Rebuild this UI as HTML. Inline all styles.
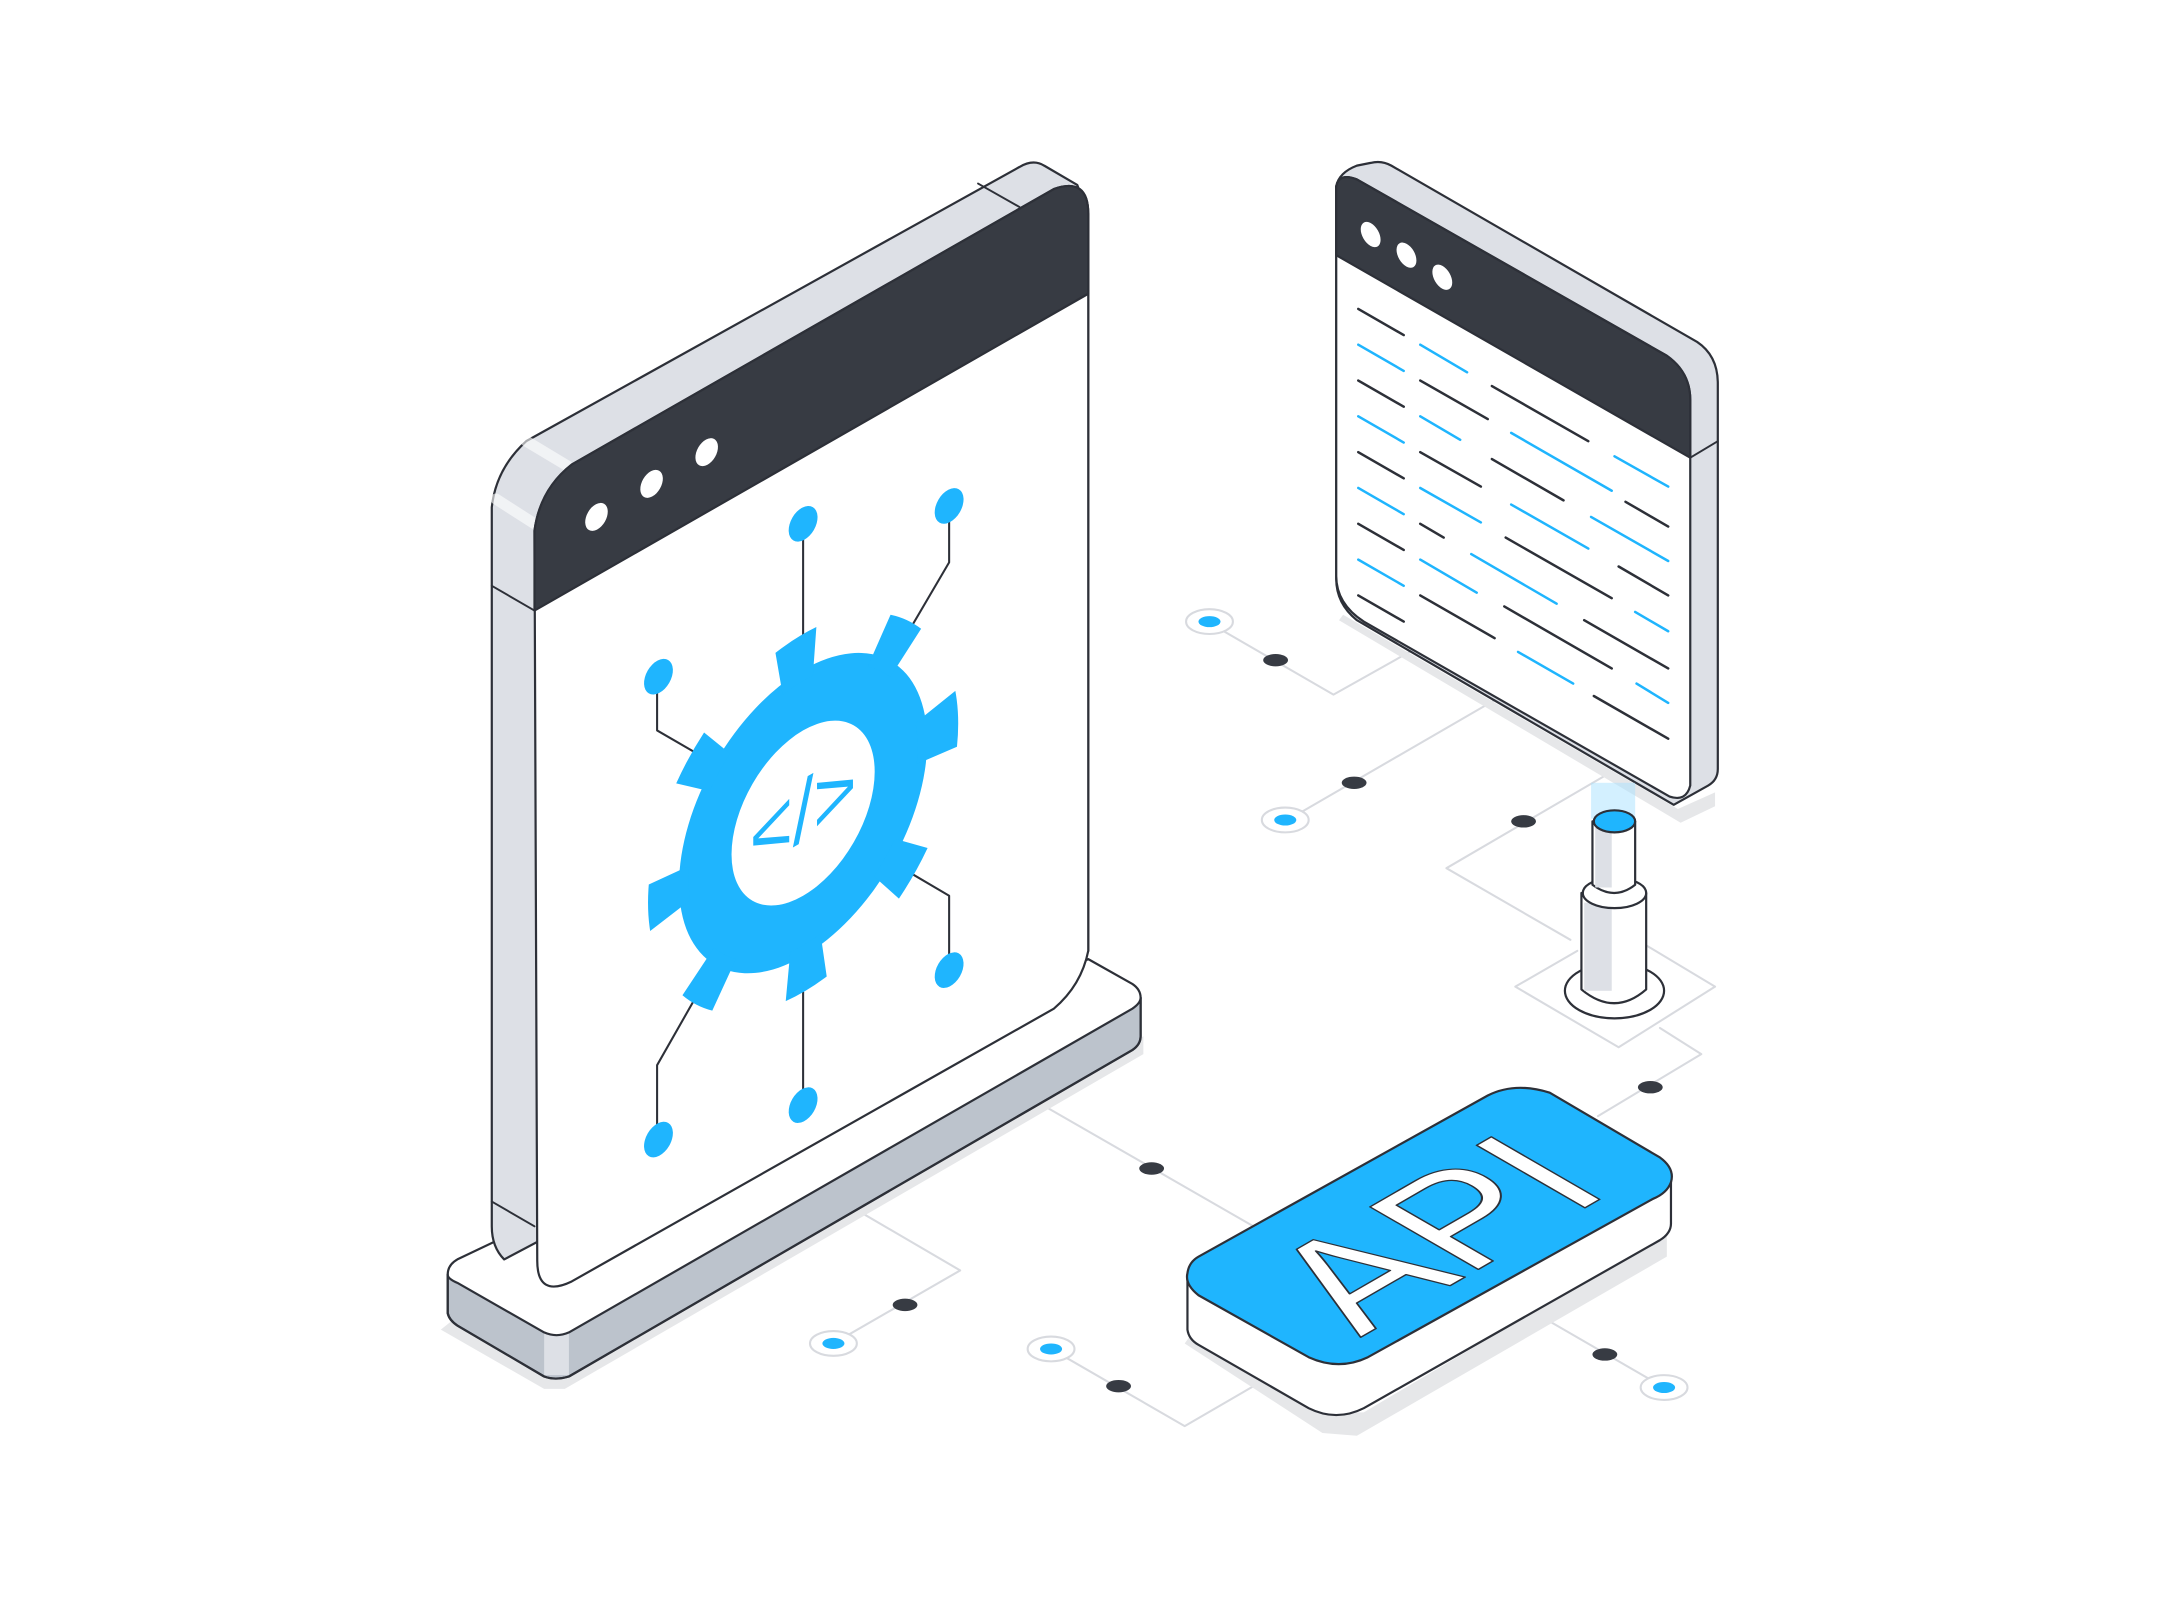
<!DOCTYPE html>
<html><head><meta charset="utf-8">
<style>
html,body{margin:0;padding:0;background:#fff;}
svg{display:block;}
text{font-family:"Liberation Sans",sans-serif;}
</style></head>
<body>
<svg width="2160" height="1600" viewBox="0 0 1568 1161" xmlns="http://www.w3.org/2000/svg">
<g fill="none" stroke-linejoin="round" stroke-linecap="round">

<g stroke="#d8dadf" stroke-width="1.5">
  <polyline points="878,452 968,504 1025,472"/>
  <polyline points="933,596 1085,508"/>
  <polyline points="1170,560 1050,630 1140,682"/>
  <polyline points="1195,686 1245,716 1175,760 1100,716 1145,690"/>
  <polyline points="1205,746 1235,765 1160,810"/>
  <polyline points="750,798 910,890"/>
  <polyline points="605,975 697,922 620,877"/>
  <polyline points="763,979 860,1035 910,1006"/>
  <polyline points="1118,955 1208,1007"/>
</g>

<path d="M320,965 L395,1008 L410,1008 L830,765 L830,752 L410,995 L395,995 L330,957 Z" fill="#e6e7e9"/>
<path d="M860,975 L960,1040 L985,1042 L1210,912 L1210,895 L990,1025 L960,1025 L865,968 Z" fill="#e6e7e9"/>
<path d="M972,450 L1220,597 L1245,585 L1245,575 L1218,587 L975,446 Z" fill="#e6e7e9"/>

<path d="M325,925 L325,953 Q326,958 332,962 L395,999 Q403,1002 413,999 L822,762 Q828,758 828,752 L828,724 Z" fill="#bcc3cc" stroke="#2d3038" stroke-width="1.6"/>
<rect x="395" y="966" width="18" height="32" fill="#dde0e6"/>
<path d="M325,925 Q325,918 332,914 L790,696 L822,714 Q828,718 828,724 Q828,728 822,732 L413,967 Q404,971 395,967 L332,931 Q325,928 325,925 Z" fill="#fff" stroke="#2d3038" stroke-width="1.6"/>
<path d="M325,925 L325,953 Q326,958 332,962 L395,999 Q403,1002 413,999 L822,762 Q828,758 828,752 L828,724" stroke="#2d3038" stroke-width="1.6"/>

<path d="M357,368 Q360,340 382,320 L740,121 Q750,115 758,120 L782,134 L790,155 L790,690 L366,914 Q357,905 357,890 Z" fill="#dde0e6" stroke="#2d3038" stroke-width="1.6"/>
<path d="M357,425 L388,443 M357,872 L388,890 M710,133 L740,150" stroke="#2d3038" stroke-width="1.4"/>
<path d="M382,320 L412,338 M360,362 L388,380" stroke="#fff" stroke-width="8" opacity="0.6"/>
<path d="M388,385 Q392,355 415,337 L765,137 Q790,128 790,155 L790,690 Q785,715 765,732 L415,930 Q390,942 390,915 Z" fill="#fff" stroke="#2d3038" stroke-width="1.6"/>
<path d="M388,443 L388,385 Q392,355 415,337 L765,137 Q790,128 790,155 L790,213 Z" fill="#373b43" stroke="#2d3038" stroke-width="1.6"/>
<g fill="#fff">
  <ellipse cx="433" cy="375" rx="7" ry="11" transform="rotate(30 433 375)"/>
  <ellipse cx="473" cy="351" rx="7" ry="11" transform="rotate(30 473 351)"/>
  <ellipse cx="513" cy="328" rx="7" ry="11" transform="rotate(30 513 328)"/>
</g>

<g stroke="#2d3038" stroke-width="1.5">
  <polyline points="583,385 583,470"/>
  <polyline points="689,370 689,408 655,466"/>
  <polyline points="477,492 477,530 515,552"/>
  <polyline points="689,703 689,650 655,630"/>
  <polyline points="477,827 477,773 510,715"/>
  <polyline points="583,802 583,720"/>
</g>
<g fill="#1fb5fe">
  <ellipse cx="583" cy="380" rx="9" ry="14" transform="rotate(30 583 380)"/>
  <ellipse cx="689" cy="367" rx="9" ry="14" transform="rotate(30 689 367)"/>
  <ellipse cx="478" cy="491" rx="9" ry="14" transform="rotate(30 478 491)"/>
  <ellipse cx="689" cy="704" rx="9" ry="14" transform="rotate(30 689 704)"/>
  <ellipse cx="478" cy="827" rx="9" ry="14" transform="rotate(30 478 827)"/>
  <ellipse cx="583" cy="802" rx="9" ry="14" transform="rotate(30 583 802)"/>
</g>
<g transform="matrix(0.866,-0.5,0,1,583,590)">
  <circle r="104" fill="#1fb5fe"/>
  <circle r="113" stroke="#1fb5fe" stroke-width="34" stroke-dasharray="30 57.96" stroke-linecap="butt" stroke-linejoin="round" transform="rotate(-8)"/>
  <circle r="60" fill="#fff"/>
  <text x="0" y="20" font-size="62" fill="#1fb5fe" text-anchor="middle" stroke="none">&lt;/&gt;</text>
</g>

<path d="M970,135 Q972,125 985,120 L995,118 Q1003,116 1010,120 L1232,248 Q1247,258 1247,278 L1247,558 Q1247,566 1240,570 L1215,584 L985,450 Q970,438 970,420 Z" fill="#dde0e6" stroke="#2d3038" stroke-width="1.6"/>
<path d="M970,135 Q972,125 985,130 L1210,258 Q1227,270 1227,290 L1227,570 Q1224,582 1212,578 L990,451 Q970,438 970,418 Z" fill="#fff" stroke="#2d3038" stroke-width="1.6"/>
<path d="M970,185 L970,135 Q972,125 985,130 L1210,258 Q1227,270 1227,290 L1227,332 Z" fill="#373b43" stroke="#2d3038" stroke-width="1.6"/>
<path d="M1227,332 L1247,320" stroke="#2d3038" stroke-width="1.4"/>
<g fill="#fff">
  <ellipse cx="995" cy="170" rx="6" ry="10" transform="rotate(-30 995 170)"/>
  <ellipse cx="1021" cy="185" rx="6" ry="10" transform="rotate(-30 1021 185)"/>
  <ellipse cx="1047" cy="201" rx="6" ry="10" transform="rotate(-30 1047 201)"/>
</g>
<g stroke-width="1.8">
  <g stroke="#2d3038">
    <line x1="986" y1="224" x2="1019" y2="243"/>
    <line x1="986" y1="276" x2="1019" y2="295"/>
    <line x1="1031" y1="276" x2="1080" y2="304"/>
    <line x1="1083" y1="280" x2="1153" y2="320"/>
    <line x1="986" y1="328" x2="1019" y2="347"/>
    <line x1="1031" y1="328" x2="1075" y2="353"/>
    <line x1="1083" y1="333" x2="1135" y2="363"/>
    <line x1="1180" y1="364" x2="1211" y2="382"/>
    <line x1="986" y1="380" x2="1019" y2="399"/>
    <line x1="1031" y1="380" x2="1048" y2="390"/>
    <line x1="1093" y1="390" x2="1170" y2="434"/>
    <line x1="1175" y1="411" x2="1211" y2="432"/>
    <line x1="986" y1="432" x2="1019" y2="451"/>
    <line x1="1031" y1="432" x2="1085" y2="463"/>
    <line x1="1092" y1="440" x2="1170" y2="485"/>
    <line x1="1150" y1="450" x2="1211" y2="485"/>
    <line x1="1157" y1="505" x2="1211" y2="536"/>
  </g>
  <g stroke="#1fb5fe">
    <line x1="986" y1="250" x2="1019" y2="269"/>
    <line x1="1031" y1="250" x2="1065" y2="270"/>
    <line x1="986" y1="302" x2="1019" y2="321"/>
    <line x1="1031" y1="302" x2="1060" y2="319"/>
    <line x1="1097" y1="314" x2="1170" y2="356"/>
    <line x1="1172" y1="331" x2="1211" y2="353"/>
    <line x1="986" y1="354" x2="1019" y2="373"/>
    <line x1="1031" y1="354" x2="1075" y2="379"/>
    <line x1="1097" y1="366" x2="1153" y2="398"/>
    <line x1="1155" y1="375" x2="1211" y2="407"/>
    <line x1="986" y1="406" x2="1019" y2="425"/>
    <line x1="1031" y1="406" x2="1072" y2="430"/>
    <line x1="1068" y1="402" x2="1130" y2="438"/>
    <line x1="1187" y1="444" x2="1211" y2="458"/>
    <line x1="1102" y1="473" x2="1142" y2="496"/>
    <line x1="1188" y1="496" x2="1211" y2="510"/>
  </g>
</g>

<rect x="1155" y="568" width="32" height="26" fill="#a8e1ff" opacity="0.5" stroke="none"/>
<ellipse cx="1172" cy="719" rx="36" ry="20" fill="#fff" stroke="#2d3038" stroke-width="1.6"/>
<path d="M1148,648 L1148,718 Q1172,738 1195,718 L1195,648 Z" fill="#fff" stroke="#2d3038" stroke-width="1.6"/>
<rect x="1150" y="655" width="20" height="64" fill="#dde0e6" stroke="none"/>
<ellipse cx="1172" cy="648" rx="23" ry="11" fill="#fff" stroke="#2d3038" stroke-width="1.6"/>
<path d="M1156,596 L1156,642 Q1172,654 1187,642 L1187,596 Z" fill="#fff" stroke="#2d3038" stroke-width="1.6"/>
<rect x="1158" y="600" width="12" height="44" fill="#dde0e6" stroke="none"/>
<ellipse cx="1172" cy="596" rx="15" ry="8" fill="#1fb5fe" stroke="#2d3038" stroke-width="1.6"/>

<path d="M862,925 L862,965 Q863,972 870,976 L950,1022 Q970,1032 990,1022 L1205,900 Q1213,895 1213,888 L1213,852 Z" fill="#fff" stroke="#2d3038" stroke-width="1.6"/>
<path d="M870,912 L1080,795 Q1100,785 1125,793 L1205,840 Q1216,848 1213,858 Q1210,866 1200,870 L993,985 Q972,995 950,985 L870,940 Q860,932 862,924 Q863,916 870,912 Z" fill="#1fb5fe" stroke="#2d3038" stroke-width="1.6"/>
<text transform="matrix(0.866,-0.5,0.866,0.5,1058,930)" x="25" y="0" font-size="132" fill="#fff" stroke="#2d3038" stroke-width="1.2" text-anchor="middle">API</text>

<g fill="#373b43">
  <ellipse cx="926" cy="479" rx="9" ry="4.5"/>
  <ellipse cx="983" cy="568" rx="9" ry="4.5"/>
  <ellipse cx="1106" cy="596" rx="9" ry="4.5"/>
  <ellipse cx="1198" cy="789" rx="9" ry="4.5"/>
  <ellipse cx="836" cy="848" rx="9" ry="4.5"/>
  <ellipse cx="657" cy="947" rx="9" ry="4.5"/>
  <ellipse cx="812" cy="1006" rx="9" ry="4.5"/>
  <ellipse cx="1165" cy="983" rx="9" ry="4.5"/>
</g>
<g stroke="#d8dadf" stroke-width="1.5" fill="#fff">
  <ellipse cx="878" cy="451" rx="17" ry="9"/>
  <ellipse cx="933" cy="595" rx="17" ry="9"/>
  <ellipse cx="605" cy="975" rx="17" ry="9"/>
  <ellipse cx="763" cy="979" rx="17" ry="9"/>
  <ellipse cx="1208" cy="1007" rx="17" ry="9"/>
</g>
<g fill="#1fb5fe">
  <ellipse cx="878" cy="451" rx="8" ry="4"/>
  <ellipse cx="933" cy="595" rx="8" ry="4"/>
  <ellipse cx="605" cy="975" rx="8" ry="4"/>
  <ellipse cx="763" cy="979" rx="8" ry="4"/>
  <ellipse cx="1208" cy="1007" rx="8" ry="4"/>
</g>
</g>
</svg>
</body></html>
